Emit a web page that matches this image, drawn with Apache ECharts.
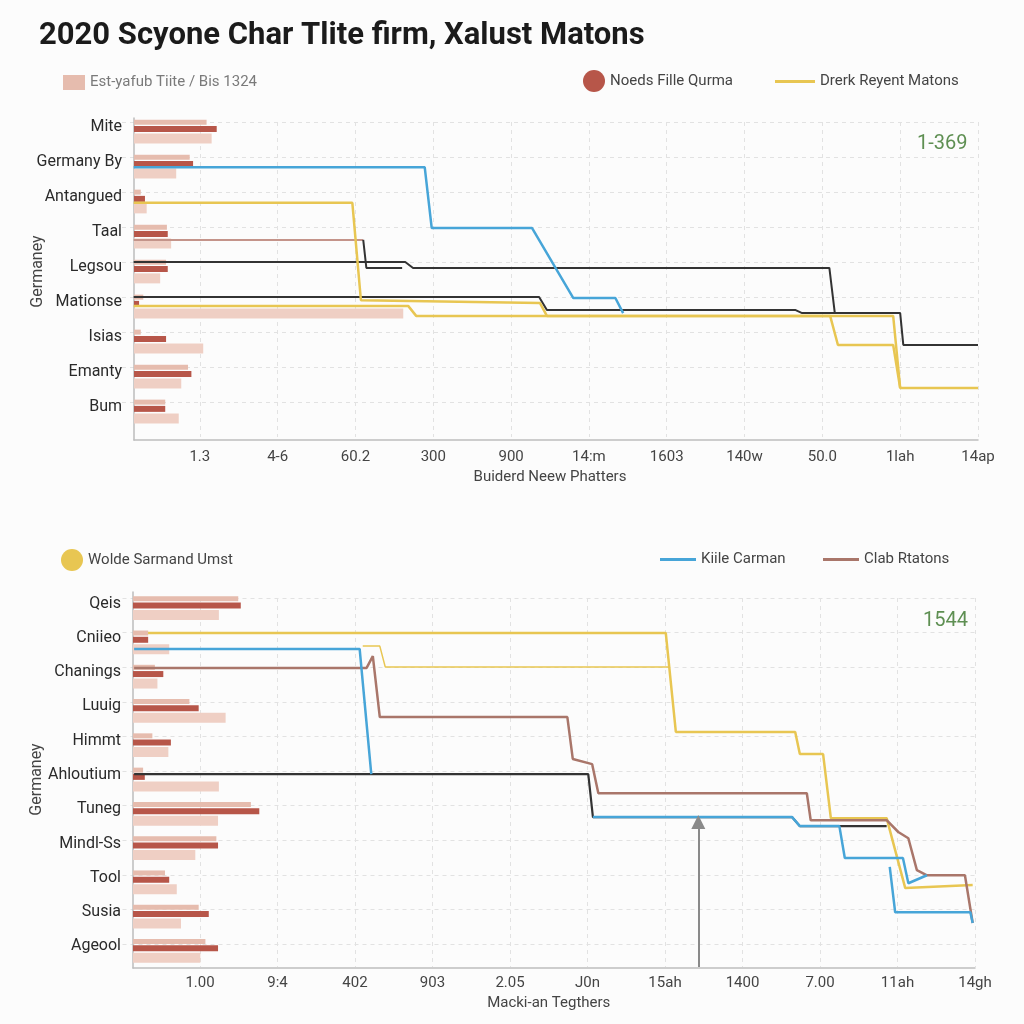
<!DOCTYPE html>
<html><head><meta charset="utf-8">
<script src="https://cdn.jsdelivr.net/npm/echarts@6/dist/echarts.min.js"></script>
<style>html,body{margin:0;padding:0;background:#fcfcfc}#c{width:1024px;height:1024px}</style>
</head><body><div id="c"></div>
<script>
// ---------- data ----------
const titleText = '2020 Scyone Char Tlite firm, Xalust Matons';
const topCats = ['Mite','Germany By','Antangued','Taal','Legsou','Mationse','Isias','Emanty','Bum'];
const topLightA = [8.6,6.6,0.8,3.9,3.8,1.1,0.8,6.4,3.7];
const topDark   = [9.8,7.0,1.3,4.0,4.0,0.6,3.8,6.8,3.7];
const topLightB = [9.2,5.0,1.5,4.4,3.1,31.9,8.2,5.6,5.3];
const topTicks = ['1.3','4-6','60.2','300','900','14:m','1603','140w','50.0','1lah','14ap'];

const topBlue   = [[-0.85,1.29],[2.89,1.29],[2.98,3.03],[4.27,3.03],[4.80,5.03],[5.34,5.03],[5.44,5.46]];
const topBlack1 = [[-0.85,4.0],[2.64,4.0],[2.74,4.17],[8.09,4.17],[8.16,5.46],[9.0,5.46],[9.04,6.37],[10.0,6.37]];
const topBrown  = [[-0.85,3.37],[2.10,3.37]];
const topDarkShort = [[2.10,3.37],[2.14,4.17],[2.60,4.17]];
const topBlack2 = [[-0.85,5.0],[4.36,5.0],[4.46,5.37],[7.65,5.37],[7.74,5.46],[9.0,5.46]];
const topYellow1 = [[-0.85,2.31],[1.96,2.31],[2.07,5.09],[4.37,5.17],[4.46,5.54],[8.10,5.54],[8.20,6.37],[8.91,6.37],[9.0,7.6],[10.0,7.6]];
const topYellow2 = [[-0.85,5.26],[2.68,5.26],[2.78,5.54],[8.91,5.54],[9.0,7.6]];

const botCats = ['Qeis','Cniieo','Chanings','Luuig','Himmt','Ahloutium','Tuneg','Mindl-Ss','Tool','Susia','Ageool'];
const botLightA = [12.5,1.8,2.6,6.7,2.3,1.2,14.0,9.9,3.8,7.8,8.6];
const botDark   = [12.8,1.8,3.6,7.8,4.5,1.4,15.0,10.1,4.3,9.0,10.1];
const botLightB = [10.2,4.3,2.9,11.0,4.2,10.2,10.1,7.4,5.2,5.7,8.0];
const botTicks = ['1.00','9:4','402','903','2.05','J0n','15ah','1400','7.00','11ah','14gh'];

const botYellow = [[-0.67,1.01],[6.01,1.01],[6.14,3.87],[7.68,3.87],[7.74,4.51],[8.04,4.51],[8.14,6.36],[8.86,6.36],[9.10,8.38],[9.97,8.29]];
const botYellowThin = [[2.10,1.39],[2.32,1.39],[2.39,1.99],[6.04,1.99]];
const botBlue1 = [[-0.85,1.47],[2.06,1.47],[2.21,5.09]];
const botBlue2 = [[5.07,6.33],[7.64,6.33],[7.74,6.59],[8.25,6.59],[8.32,7.51],[9.07,7.51],[9.14,8.24],[9.38,8.01]];
const botBlue3 = [[8.90,7.77],[8.97,9.08],[9.94,9.08],[9.97,9.39]];
const botBlack = [[-0.85,5.09],[5.01,5.09],[5.07,6.33],[7.64,6.33],[7.74,6.59],[8.86,6.59]];
const botBrown = [[-0.85,2.02],[2.15,2.02],[2.23,1.68],[2.32,3.44],[4.74,3.44],[4.81,4.65],[5.06,4.80],[5.14,5.64],[7.83,5.64],[7.88,6.42],[8.86,6.42],[9.01,6.76],[9.14,6.94],[9.25,7.86],[9.38,8.01],[9.87,8.01],[9.97,9.39]];
const arrowX = 6.43, arrowFrom = 10.66, arrowTo = 6.47;

// ---------- style ----------
const FONT = 'Roboto, "Liberation Sans", sans-serif';
const C_LIGHT_A = '#e6bcae', C_LIGHT_B = '#efcfc4', C_DARK = '#b75649';
const C_YEL = '#e8c652', C_BLUE = '#47a5d8', C_BLACK = '#333333', C_BROWN = '#a9766a', C_BROWN_T = '#c4948a';

const chart = echarts.init(document.getElementById('c'), null, {renderer:'canvas'});

function bar(name, data, color, w, idx){
  return {type:'bar', name, data, xAxisIndex:idx, yAxisIndex:idx, barWidth:w, barGap:'25%', itemStyle:{color}, z:2, animation:false};
}
function line(name, data, color, width, idx, z){
  return {type:'line', name, data, xAxisIndex:idx, yAxisIndex:idx, symbol:'none', lineStyle:{color, width}, itemStyle:{color}, z:z||3, animation:false};
}
const dashed = {show:true, lineStyle:{color:'#e2e2e2', type:[4,4], width:1}};
const catAxis = (idx, cats) => ({type:'category', gridIndex:idx, data:cats, inverse:true,
  axisLine:{show:false}, axisTick:{show:false}, splitLine:{show:false},
  axisLabel:{color:'#2a2a2a', fontSize:16, fontFamily:FONT, margin:12, verticalAlign:'bottom', lineHeight:9},
  name:'Germaney', nameLocation:'middle', nameRotate:90, nameGap:88, nameMoveOverlap:false,
  nameTextStyle:{color:'#444', fontSize:16, fontFamily:FONT}});
const hiddenVal = (idx) => ({type:'value', gridIndex:idx, min:0, max:100, show:false});
const tickAxis = (idx, ticks, name, margin, gap) => ({type:'value', gridIndex:idx, min:-1, max:10, interval:1,
  axisLine:{show:false}, axisTick:{show:false},
  splitLine:Object.assign({showMinLine:false}, dashed),
  axisLabel:{showMinLabel:false, color:'#444', fontSize:15, fontFamily:FONT, margin,
    formatter:v => (v>=0 && v<ticks.length) ? ticks[Math.round(v)] : ''},
  name, nameLocation:'middle', nameGap:gap, nameTextStyle:{color:'#444', fontSize:15, fontFamily:FONT}});
const gridVal = (idx, max) => ({type:'value', gridIndex:idx, min:0, max, interval:1, inverse:true,
  axisLine:{show:false}, axisTick:{show:false}, axisLabel:{show:false}, splitLine:Object.assign({showMaxLine:false}, dashed)});
const frameAxis = (idx) => ({type:'value', gridIndex:idx, min:0, max:1, axisLine:{show:true, onZero:false, lineStyle:{color:'#bdbdbd', width:1.5}},
  axisTick:{show:false}, axisLabel:{show:false}, splitLine:{show:false}});
const lineIcon = 'rect';

const option = {
  backgroundColor:'#fcfcfc',
  animation:false,
  textStyle:{fontFamily:FONT},
  title:[
    {text:titleText, left:34, top:16, textStyle:{fontSize:31, fontWeight:'bold', color:'#1b1b1b', fontFamily:FONT}},
    {text:'1-369', left:912, top:129, textStyle:{fontSize:20, fontWeight:'normal', color:'#5e8f52', fontFamily:FONT}},
    {text:'1544', left:918, top:606, textStyle:{fontSize:20, fontWeight:'normal', color:'#5e8f52', fontFamily:FONT}}
  ],
  legend:[
    {data:[{name:'Est-yafub Tiite / Bis 1324', icon:'rect'}], left:58, top:70, itemWidth:22, itemHeight:15, textStyle:{color:'#7a7a7a', fontSize:15}},
    {data:[{name:'Noeds Fille Qurma', icon:'circle'}], left:578, top:65, itemWidth:22, itemHeight:22, textStyle:{color:'#444', fontSize:15}},
    {data:[{name:'Drerk Reyent Matons', icon:lineIcon}], left:770, top:69, itemWidth:40, itemHeight:3, textStyle:{color:'#444', fontSize:15}},
    {data:[{name:'Wolde Sarmand Umst', icon:'circle'}], left:56, top:544, itemWidth:22, itemHeight:22, textStyle:{color:'#444', fontSize:15}},
    {data:[{name:'Kiile Carman', icon:lineIcon}], left:655, top:547, itemWidth:36, itemHeight:3, textStyle:{color:'#444', fontSize:15}},
    {data:[{name:'Clab Rtatons', icon:lineIcon}], left:818, top:547, itemWidth:36, itemHeight:3, textStyle:{color:'#444', fontSize:15}}
  ],
  grid:[
    {left:134, right:46, top:114, height:315},
    {left:122, right:46, top:122, height:315},
    {left:134, right:46, top:118, height:322},
    {left:133, right:49, top:591, height:377},
    {left:122.5, right:49, top:598, height:369},
    {left:133, right:49, top:592, height:376}
  ],
  xAxis:[
    hiddenVal(0),
    tickAxis(1, topTicks, 'Buiderd Neew Phatters', 13, 33),
    frameAxis(2),
    hiddenVal(3),
    tickAxis(4, botTicks, 'Macki-an Tegthers', 9, 29),
    frameAxis(5)
  ],
  yAxis:[
    catAxis(0, topCats),
    gridVal(1, 9),
    frameAxis(2),
    catAxis(3, botCats),
    gridVal(4, 10.66),
    frameAxis(5)
  ],
  series:[
    bar('Est-yafub Tiite / Bis 1324', topLightA, C_LIGHT_A, 5, 0),
    bar('Noeds Fille Qurma', topDark, C_DARK, 6, 0),
    bar('Est-yafub Tiite / Bis 1324', topLightB, C_LIGHT_B, 10, 0),
    line('topBrown', topBrown, C_BROWN_T, 2, 1),
    line('topDarkShort', topDarkShort, C_BLACK, 2, 1),
    line('topBlack1', topBlack1, C_BLACK, 2, 1),
    line('topBlack2', topBlack2, C_BLACK, 2, 1),
    line('Drerk Reyent Matons', topYellow2, C_YEL, 2.5, 1),
    line('Drerk Reyent Matons', topYellow1, C_YEL, 2.5, 1),
    line('topBlue', topBlue, C_BLUE, 2.5, 1, 4),

    bar('botLightA', botLightA, C_LIGHT_A, 5, 3),
    bar('botDark', botDark, C_DARK, 6, 3),
    bar('botLightB', botLightB, C_LIGHT_B, 10, 3),
    Object.assign(line('botBlack', botBlack, C_BLACK, 2.2, 4), {
      markLine:{silent:true, symbol:['none','triangle'], symbolSize:[14,14], label:{show:false},
        lineStyle:{color:'#8a8a8a', width:2, type:'solid'},
        data:[[{coord:[arrowX, arrowFrom]},{coord:[arrowX, arrowTo]}]]}
    }),
    line('Wolde Sarmand Umst', botYellowThin, C_YEL, 1.5, 4),
    line('Wolde Sarmand Umst', botYellow, C_YEL, 2.5, 4),
    line('Clab Rtatons', botBrown, C_BROWN, 2.5, 4),
    line('Kiile Carman', botBlue1, C_BLUE, 2.5, 4, 4),
    line('Kiile Carman', botBlue2, C_BLUE, 2.5, 4, 4),
    line('Kiile Carman', botBlue3, C_BLUE, 2.5, 4, 4)
  ]
};
chart.setOption(option);
</script>
</body></html>
